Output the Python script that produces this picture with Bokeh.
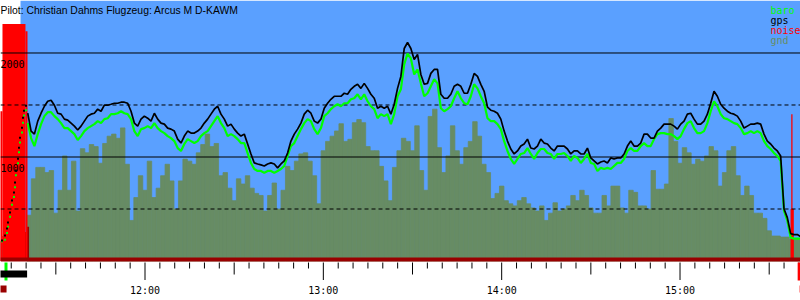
from bokeh.plotting import figure
from bokeh.models import Range1d
from bokeh.core.properties import value
from bokeh.embed import file_html
from bokeh.resources import INLINE

# ---------------- data ----------------
TITLE = "Pilot: Christian Dahms Flugzeug: Arcus M D-KAWM"
LEGEND_TEXT = ["baro", "gps", "noise", "gnd"]
HOUR_TICKS = ["12:00", "13:00", "14:00", "15:00"]
SOLID_LEVELS = [1000, 2000]
DASHED_LEVELS = [500, 1500]
ALT_LABELS = ["1000", "2000"]

VIEW_START, VIEW_END = "11:11:23", "15:40:32"
SKY_START = "11:18:07"

# barograph trace (regular sampling)
TRACE_START = "11:20:33"
TRACE_STEP_S = 67.25
gps_alt = [1421,
    1249, 1220, 1345, 1421, 1488, 1536, 1546, 1498, 1421, 1412, 1364, 1354, 1326, 1297, 1259, 1297, 1345, 1393,
    1412, 1421, 1460, 1440, 1498, 1498, 1507, 1517, 1517, 1527, 1527, 1517, 1440, 1326, 1297, 1364, 1393, 1373,
    1345, 1421, 1364, 1326, 1316, 1278, 1268, 1249, 1172, 1134, 1201, 1249, 1230, 1230, 1249, 1278,
    1326, 1364, 1412, 1460, 1488, 1412, 1364, 1297, 1316, 1268, 1230, 1201, 1220, 1125, 1029, 943, 933, 924, 914, 933,
    943, 933, 895, 933, 962, 1038, 1153, 1220, 1268, 1326, 1412, 1450, 1421, 1345, 1326, 1364, 1469, 1517, 1555, 1584,
    1584, 1584, 1613, 1603, 1651, 1680, 1699, 1660, 1708, 1660, 1603, 1565, 1469, 1488, 1469, 1488, 1412, 1507, 1660, 1775,
    2043, 2101, 2043, 1938, 1986, 1794, 1699, 1708, 1804, 1842, 1842, 1603, 1565, 1565, 1603, 1680, 1699, 1680, 1613, 1613,
    1699, 1804, 1775, 1699, 1632, 1479, 1450, 1440, 1421, 1364, 1249, 1153, 1077, 1029, 1058, 1105, 1125, 1172, 1086, 1077,
    1105, 1172, 1134, 1125, 1086, 1058, 1105, 1105, 1105, 1077, 1029, 1058, 1058, 1029, 1029, 1086, 991, 962, 933, 952,
    962, 943, 991, 981, 991, 991, 1029, 1105, 1153, 1105, 1105, 1134, 1220, 1220, 1182, 1182, 1249, 1278, 1316, 1316,
    1316, 1297, 1268, 1316, 1345, 1412, 1421, 1364, 1316, 1316, 1345, 1412, 1517, 1632, 1584, 1507, 1469, 1440, 1421, 1412,
    1393, 1345, 1278, 1297, 1316, 1316, 1326, 1316, 1220, 1153, 1125, 1086, 1058, 1010, 503, 417, 263, 254, 254, 235]
baro_alt = [1326,
    1182, 1105, 1220, 1316, 1393, 1431, 1431, 1393, 1364, 1326, 1278, 1278, 1249, 1220, 1163, 1201, 1249, 1278,
    1297, 1316, 1345, 1326, 1364, 1373, 1412, 1412, 1421, 1440, 1421, 1412, 1364, 1249, 1201, 1268, 1278, 1297,
    1278, 1326, 1278, 1249, 1230, 1201, 1182, 1153, 1086, 1058, 1125, 1172, 1153, 1134, 1153, 1201,
    1230, 1249, 1297, 1345, 1393, 1326, 1278, 1201, 1220, 1201, 1172, 1134, 1134, 1038, 943, 885, 866, 866, 847, 866,
    866, 847, 866, 885, 914, 1010, 1105, 1134, 1201, 1268, 1326, 1364, 1345, 1268, 1220, 1278, 1393, 1421, 1460, 1488,
    1507, 1488, 1517, 1517, 1555, 1565, 1603, 1555, 1603, 1536, 1488, 1460, 1373, 1412, 1393, 1412, 1316, 1412, 1584, 1651,
    1890, 1995, 1948, 1794, 1842, 1708, 1584, 1613, 1680, 1747, 1708, 1469, 1440, 1460, 1488, 1565, 1632, 1565, 1517, 1507,
    1584, 1699, 1660, 1584, 1517, 1373, 1345, 1345, 1316, 1268, 1153, 1058, 981, 933, 981, 1029, 1038, 1086, 1029, 981,
    1038, 1077, 1077, 1038, 1029, 981, 1029, 1029, 1038, 1010, 962, 1010, 991, 943, 981, 1029, 943, 933, 866, 895,
    885, 895, 885, 914, 943, 943, 981, 1058, 1086, 1058, 1058, 1105, 1134, 1105, 1105, 1172, 1220, 1230, 1230, 1220,
    1220, 1201, 1172, 1201, 1268, 1326, 1345, 1278, 1230, 1230, 1249, 1326, 1440, 1536, 1488, 1412, 1373, 1364, 1345, 1326,
    1316, 1278, 1220, 1230, 1249, 1230, 1249, 1230, 1153, 1105, 1077, 1038, 1010, 962, 483, 388, 225, 215, 215, 215]

# climb under engine (sparse fixes)
climb_time = ["11:11:53", "11:12:53", "11:13:34", "11:13:54", "11:14:35", "11:15:15", "11:15:55", "11:16:16",
              "11:16:35", "11:17:16", "11:17:36", "11:17:56", "11:18:37", "11:18:57", "11:19:17", "11:19:58"]
climb_gps = [197, 245, 312, 370, 466, 581, 658, 754, 869, 984, 1090, 1186, 1282, 1378, 1445, 1493]
climb_baro = [190, 205, 270, 330, 425, 540, 615, 710, 825, 940, 1045, 1140, 1235, 1330, 1400, 1450]

# ground elevation
GND_START = "11:21:00"
GND_STEP_S = 90
gnd_alt = [440, 790, 900, 900, 850, 870, 460, 680, 1010, 680, 960, 480, 1080, 1040, 1120, 1100, 940, 1130, 1200, 1220,
           1180, 1280, 930, 390, 610, 820, 680, 960, 610, 700, 820, 930, 770, 500, 770, 980, 960, 930, 1040,
           1120, 1220, 1100, 1130, 820, 850, 700, 580, 790, 740, 820, 700, 650, 630, 480, 630, 750, 500, 680, 910,
           870, 960, 1030, 1040, 960, 820, 550, 1060, 1150, 1200, 1250, 1320, 1150, 1170, 1330, 1360, 1330, 1100, 1060, 1060,
           910, 770, 580, 900, 1060,
           1180, 1150, 1060, 1300, 870, 680, 1390, 1460, 1090, 850, 1010, 1300, 1060, 930, 1090, 1150, 1340, 1200, 930, 850,
           600, 650, 720, 580, 550, 530, 580, 610, 550, 510, 480, 530, 390, 460, 560, 480, 500, 530, 630, 580,
           680, 630, 510, 460, 460,
           630, 530, 720, 720, 510, 460, 680, 660, 530, 530, 500, 870, 690, 690, 740, 1370, 1150, 940, 1090, 1040,
           930, 980, 960, 1010, 1100, 1060, 720, 850, 1060, 1100, 820, 630, 720, 630, 460, 460, 410, 290, 240, 240,
           230, 230, 210, 210, 210]

# ground while engine noise is high
eng_from = ["11:11:00", "11:12:00", "11:13:00", "11:14:00", "11:15:00", "11:16:00", "11:17:00", "11:18:00",
            "11:19:00", "11:20:00", "15:37:25"]
eng_to = ["11:12:00", "11:13:00", "11:14:00", "11:15:00", "11:16:00", "11:17:00", "11:18:00", "11:19:00",
          "11:20:00", "11:21:00", "15:38:05"]
eng_gnd = [190, 240, 230, 260, 270, 250, 260, 250, 280, 330, 215]

# engine noise level
noise_from = ["11:11:00", "11:12:03", "11:19:47", "15:37:11", "15:37:25"]
noise_to = ["11:12:03", "11:19:47", "11:20:28", "15:38:17", "15:37:51"]
noise_level = [1440, 2280, 2210, 500, 1410]

# event marks under the time axis
TAKEOFF = "11:13:14"
LANDING = "15:40:05"
ENGINE_RUN = ("11:11:00", "11:20:20")
NOISE_MARK = ("11:11:00", "11:13:25")
LAND_MARK = "15:40:30"

# ---------------- styling ----------------
W, H = 800, 300
BLUE = "#5aa0ff"
OLIVE = "#678c64"
RED = "#ff0000"
DARK_RED = "#990000"
GREEN = "#00ff00"
MONO = "DejaVu Sans Mono"


def tmin(s):
    h, m, sec = (int(v) for v in s.split(":"))
    return h * 60 + m + sec / 60.0 - 660.0


X0, X1 = tmin(VIEW_START), tmin(VIEW_END)
Y0, Y1 = -379.8, 2504.8
MPX = (Y1 - Y0) / H


def px_x(e):
    return X0 + e * (X1 - X0) / W


def px_y(e):
    return Y1 - e * MPX


p = figure(width=W, height=H, x_range=Range1d(X0, X1), y_range=Range1d(Y0, Y1),
           x_axis_type=None, y_axis_type=None, toolbar_location=None,
           output_backend="svg", min_border=0, title_location=None)
p.outline_line_color = None
p.background_fill_color = "white"
p.border_fill_color = "white"

# sky
p.quad(left=[tmin(SKY_START)], right=[X1], bottom=[0], top=[Y1], fill_color=BLUE, line_color=None)

# ground
gnd_t = [tmin(GND_START) + k * GND_STEP_S / 60.0 for k in range(len(gnd_alt))]
p.vbar(x=gnd_t, width=GND_STEP_S / 60.0, bottom=0, top=gnd_alt, fill_color=OLIVE,
       line_color=OLIVE, line_width=0.8)

# ground during engine run
p.quad(left=[tmin(t) for t in eng_from], right=[tmin(t) for t in eng_to], bottom=0, top=eng_gnd,
       fill_color=DARK_RED, line_color=None)

# noise
p.quad(left=[tmin(t) for t in noise_from], right=[tmin(t) for t in noise_to], bottom=0, top=noise_level,
       fill_color=RED, line_color=None)

# baseline strip
p.quad(left=[X0], right=[X1], bottom=[px_y(261)], top=[px_y(257)], fill_color=DARK_RED, line_color=None)

# horizontal reference lines
for lv in SOLID_LEVELS:
    p.segment(x0=[X0], x1=[X1], y0=[lv], y1=[lv], line_color="black", line_width=1)
for lv in DASHED_LEVELS:
    p.segment(x0=[X0], x1=[X1], y0=[lv], y1=[lv], line_color="black", line_width=1, line_dash="4 3")

# traces
assert len(gps_alt) == len(baro_alt)
tr_t = [tmin(TRACE_START) + i * TRACE_STEP_S / 60.0 for i in range(len(gps_alt))]
p.line(tr_t, baro_alt, line_color=GREEN, line_width=2.2)
p.line(tr_t, gps_alt, line_color="black", line_width=1.7)
ct = [tmin(t) for t in climb_time]
p.scatter(ct, climb_baro, marker="square", size=2, fill_color=GREEN, line_color=None)
p.scatter(ct, climb_gps, marker="square", size=2, fill_color="black", line_color=None)

# altitude labels
p.text(x=[X0] * len(ALT_LABELS), y=[float(a) - 11 * MPX for a in ALT_LABELS], text=ALT_LABELS,
       text_font=value(MONO), text_font_size="10px", text_color="black",
       text_align="left", text_baseline="alphabetic")

# time ticks
tick_m = list(range(int(X0 // 5 + 1) * 5, int(X1) + 1, 5))
ends = []
for m in tick_m:
    if m % 60 == 0:
        ends.append(px_y(279.5))
    elif m % 30 == 0:
        ends.append(px_y(274))
    else:
        ends.append(px_y(268))
p.segment(x0=tick_m, x1=tick_m, y0=[px_y(262)] * len(tick_m), y1=ends, line_color="black", line_width=1)
hour_x = [tmin(h + ":00") for h in HOUR_TICKS]
p.text(x=hour_x, y=[px_y(290)] * len(hour_x), text=HOUR_TICKS, text_font=value(MONO),
       text_font_size="10px", text_color="black", text_align="center", text_baseline="alphabetic")

# event marks
p.segment(x0=[tmin(TAKEOFF)], x1=[tmin(TAKEOFF)], y0=[px_y(262)], y1=[px_y(280)], line_color=GREEN, line_width=3)
p.segment(x0=[tmin(LANDING)], x1=[tmin(LANDING)], y0=[px_y(262)], y1=[px_y(280)], line_color=RED, line_width=3)
p.quad(left=[tmin(ENGINE_RUN[0])], right=[tmin(ENGINE_RUN[1])], bottom=[px_y(277)], top=[px_y(270)],
       fill_color="black", line_color=None)
p.quad(left=[tmin(NOISE_MARK[0])], right=[tmin(NOISE_MARK[1])], bottom=[px_y(292)], top=[px_y(285)],
       fill_color=DARK_RED, line_color=None)
p.segment(x0=[tmin(LAND_MARK)], x1=[tmin(LAND_MARK)], y0=[px_y(285)], y1=[px_y(292)], line_color=RED, line_width=1.5)

# title
p.text(x=[px_x(0)], y=[px_y(10)], text=[TITLE], text_font=value("Liberation Sans"), text_font_size="10.4px",
       text_color="black", text_align="left", text_baseline="alphabetic")

# legend
leg_colors = [GREEN, "black", RED, OLIVE]
p.text(x=[px_x(770)] * 4, y=[px_y(10 + 10 * i) for i in range(4)], text=LEGEND_TEXT,
       text_color=leg_colors, text_font=value(MONO), text_font_size="10px",
       text_align="left", text_baseline="alphabetic")

open("out.html", "w").write(file_html(p, INLINE))
